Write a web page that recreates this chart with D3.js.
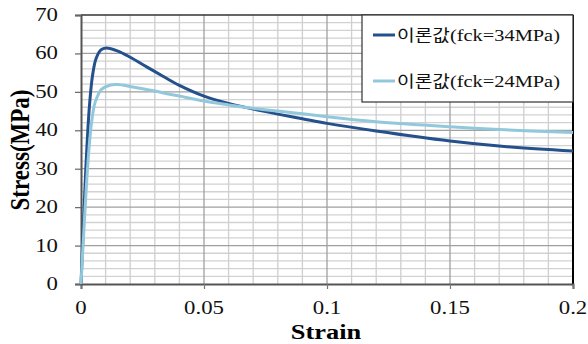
<!DOCTYPE html>
<html><head><meta charset="utf-8">
<script src="https://cdn.jsdelivr.net/npm/d3@7"></script>
<style>body{margin:0;background:#fff}</style>
</head><body>
<svg id="c" width="588" height="344"></svg>
<script>
const strain34 = [0, 0.001, 0.002, 0.0034, 0.0047, 0.0061, 0.0081, 0.0102, 0.015, 0.02, 0.0267, 0.0335, 0.04, 0.05, 0.06, 0.07, 0.08, 0.09, 0.1, 0.12, 0.15, 0.17, 0.2];
const stress34 = [0, 15.5, 30.5, 46.1, 54.3, 58.6, 60.9, 61.4, 60.6, 59.0, 56.5, 54.0, 51.7, 48.9, 47.0, 45.5, 44.2, 43.0, 41.8, 39.8, 37.2, 35.9, 34.6];
const strain24 = [0, 0.001, 0.0027, 0.0041, 0.0054, 0.0064, 0.0084, 0.012, 0.015, 0.02, 0.03, 0.036, 0.04, 0.05, 0.06, 0.07, 0.08, 0.09, 0.1, 0.12, 0.15, 0.17, 0.2];
const stress24 = [0, 12.0, 30.5, 41.0, 46.5, 48.4, 50.7, 51.8, 51.9, 51.4, 50.2, 49.4, 48.9, 47.6, 46.6, 45.7, 45.0, 44.3, 43.5, 42.2, 40.9, 40.2, 39.4];
const xTicks = [0, 0.05, 0.1, 0.15, 0.2];
const xTickLabels = ["0", "0.05", "0.1", "0.15", "0.2"];
const yTicks = [0, 10, 20, 30, 40, 50, 60, 70];
const seriesNames = ["이론값", "이론값"];
const seriesSuffix = ["(fck=34MPa)", "(fck=24MPa)"];
const colors = ["#24508c", "#92c8dc"];

const svg = d3.select("#c");
const L = 81, R = 573, T = 15, B = 284;
const x = d3.scaleLinear().domain([0, 0.2]).range([L, R]);
const y = d3.scaleLinear().domain([0, 70]).range([B, T]);
const SERIF = '"Liberation Serif", "Times New Roman", serif';
const KR = '"Noto Sans CJK KR", sans-serif';

// gridlines
const minorX = d3.range(0, 0.2001, 0.01);
const minorY = d3.range(0, 70.01, 2);
svg.append("g").selectAll("line").data(minorY.filter(v => v % 10 !== 0)).join("line")
  .attr("x1", L).attr("x2", R).attr("y1", d => y(d)).attr("y2", d => y(d))
  .attr("stroke", "#d2d2d2").attr("stroke-width", 1.3);
svg.append("g").selectAll("line").data(minorX.filter(v => Math.abs(v/0.05 - Math.round(v/0.05)) > 1e-6)).join("line")
  .attr("y1", T).attr("y2", B).attr("x1", d => x(d)).attr("x2", d => x(d))
  .attr("stroke", "#cfcfcf").attr("stroke-width", 1.3);
svg.append("g").selectAll("line").data(yTicks.slice(1, -1)).join("line")
  .attr("x1", L).attr("x2", R).attr("y1", d => y(d)).attr("y2", d => y(d))
  .attr("stroke", "#a0a0a0").attr("stroke-width", 1.3);
svg.append("g").selectAll("line").data(xTicks.slice(1, -1)).join("line")
  .attr("y1", T).attr("y2", B).attr("x1", d => x(d)).attr("x2", d => x(d))
  .attr("stroke", "#a0a0a0").attr("stroke-width", 1.3);

// frame
svg.append("line").attr("x1", L).attr("x2", R).attr("y1", T).attr("y2", T).attr("stroke", "#333").attr("stroke-width", 1.5);
svg.append("line").attr("x1", R).attr("x2", R).attr("y1", T).attr("y2", B).attr("stroke", "#000").attr("stroke-width", 2);

// axes
const xAxis = d3.axisBottom(x).tickValues(xTicks).tickSize(5).tickFormat("");
const gx = svg.append("g").attr("transform", `translate(0,${B})`).call(xAxis);
gx.select(".domain").attr("stroke", "#555").attr("stroke-width", 2);
gx.selectAll(".tick line").attr("stroke", "#777").attr("stroke-width", 1.2);
const yAxis = d3.axisLeft(y).tickValues(yTicks).tickSize(6).tickFormat("");
const gy = svg.append("g").attr("transform", `translate(${L},0)`).call(yAxis);
gy.select(".domain").attr("stroke", "#555").attr("stroke-width", 2);
gy.selectAll(".tick line").attr("stroke", "#666").attr("stroke-width", 1.2);

// tick labels
const fs = 19, sx = 1.2;
svg.append("g").selectAll("text").data(xTicks).join("text")
  .style("font-family", SERIF)
  .attr("transform", d => `translate(${x(d)},314) scale(${sx},1)`)
  .attr("text-anchor", "middle").attr("font-size", fs).attr("fill", "#111")
  .text((d, i) => xTickLabels[i]);
svg.append("g").selectAll("text").data(yTicks).join("text")
  .style("font-family", SERIF)
  .attr("transform", d => `translate(58,${y(d) + 6}) scale(${sx},1)`)
  .attr("text-anchor", "end").attr("font-size", fs).attr("fill", "#111")
  .text(d => d);

// axis titles
svg.append("text").style("font-family", SERIF).attr("transform", `translate(326,339) scale(${sx},1)`)
  .attr("text-anchor", "middle").attr("font-weight", "bold").attr("font-size", 22).attr("fill", "#000")
  .text("Strain");
svg.append("text").style("font-family", SERIF).attr("transform", `translate(29,150) rotate(-90) scale(1,${sx})`)
  .attr("text-anchor", "middle").attr("font-weight", "bold").attr("font-size", 23).attr("fill", "#000")
  .text("Stress(MPa)");

// curves
const line = d3.line().x(d => x(d[0])).y(d => y(d[1])).curve(d3.curveCatmullRom.alpha(0.5));
const data = [d3.zip(strain34, stress34), d3.zip(strain24, stress24)];
svg.append("g").selectAll("path").data(data).join("path")
  .attr("d", line).attr("fill", "none")
  .attr("stroke", (d, i) => colors[i]).attr("stroke-width", 3);

// legend
const lg = svg.append("g");
lg.append("rect").attr("x", 362).attr("y", T).attr("width", R - 362).attr("height", 87)
  .attr("fill", "#fff").attr("stroke", "#333").attr("stroke-width", 1.2);
[35, 81].forEach((ly, i) => {
  lg.append("line").attr("x1", 373).attr("x2", 395).attr("y1", ly).attr("y2", ly)
    .attr("stroke", colors[i]).attr("stroke-width", 3);
  const t = lg.append("text").attr("transform", `translate(397,${ly + 6}) scale(${sx},1)`)
    .attr("font-size", 16).attr("fill", "#111");
  t.append("tspan").style("font-family", KR).text(seriesNames[i]);
  t.append("tspan").style("font-family", SERIF).attr("font-size", 17).text(seriesSuffix[i]);
});
</script>
</body></html>
